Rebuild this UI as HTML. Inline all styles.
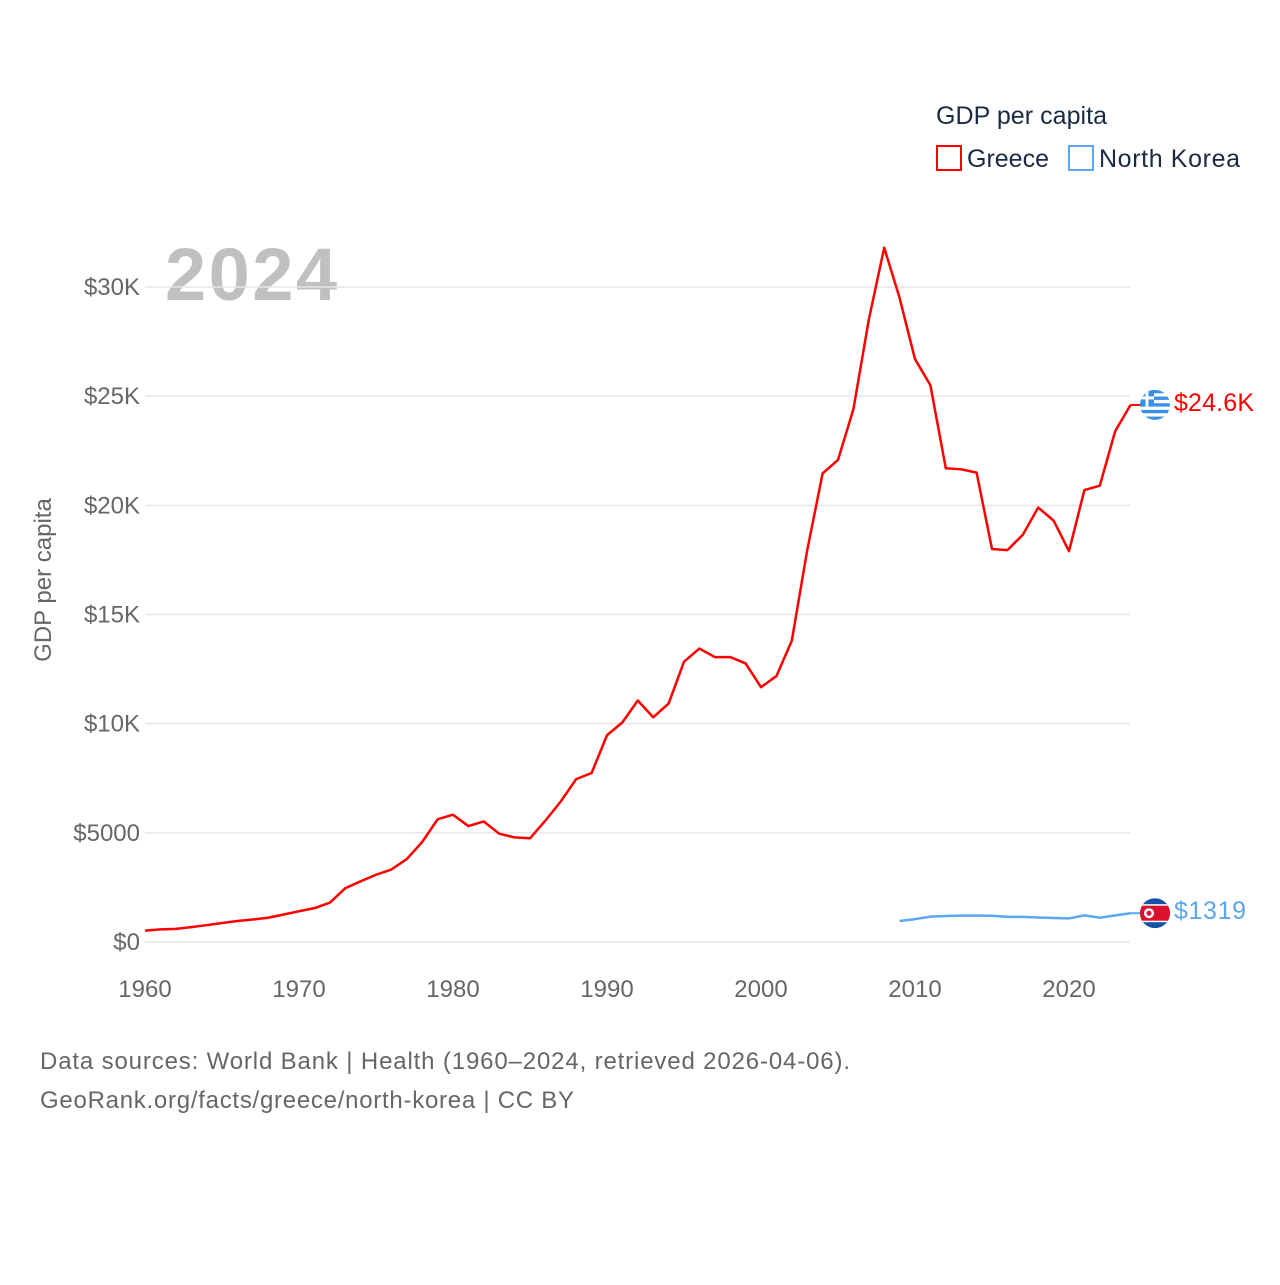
<!DOCTYPE html>
<html><head><meta charset="utf-8"><style>
body{margin:0;background:#fff;}
svg text{font-family:"Liberation Sans",sans-serif;}
</style></head><body>
<svg id="chart" width="1280" height="1280" xmlns="http://www.w3.org/2000/svg">
<text x="936" y="124" font-size="25" fill="#1a2a44" textLength="171">GDP per capita</text>
<g><rect x="937" y="146" width="24" height="24" fill="none" stroke="#f00" stroke-width="2"/><text x="967" y="167" font-size="25" fill="#1a2a44">Greece</text></g>
<g><rect x="1069" y="146" width="24" height="24" fill="none" stroke="#5ba6f0" stroke-width="2"/><text x="1099" y="167" font-size="25" fill="#1a2a44" textLength="141">North Korea</text></g>
<text x="165" y="300" font-size="74" font-weight="bold" fill="#c0c0c0" textLength="172">2024</text>
<text transform="translate(51,580) rotate(-90)" text-anchor="middle" font-size="24" fill="#666">GDP per capita</text>
<g id="grid"></g><g id="lines"></g>
<text x="40" y="1069" font-size="24" fill="#666" textLength="810">Data sources: World Bank | Health (1960–2024, retrieved 2026-04-06).</text>
<text x="40" y="1108" font-size="24" fill="#666" textLength="534">GeoRank.org/facts/greece/north-korea | CC BY</text>
</svg>
<script>
const greeceYears=[1960,1961,1962,1963,1964,1965,1966,1967,1968,1969,1970,1971,1972,1973,1974,1975,1976,1977,1978,1979,1980,1981,1982,1983,1984,1985,1986,1987,1988,1989,1990,1991,1992,1993,1994,1995,1996,1997,1998,1999,2000,2001,2002,2003,2004,2005,2006,2007,2008,2009,2010,2011,2012,2013,2014,2015,2016,2017,2018,2019,2020,2021,2022,2023,2024];
const greeceValues=[520,580,600,680,770,870,960,1030,1110,1260,1410,1550,1800,2460,2780,3080,3320,3800,4580,5620,5830,5310,5520,4960,4790,4750,5560,6440,7460,7740,9470,10060,11060,10290,10920,12840,13440,13050,13050,12760,11670,12180,13800,17940,21460,22080,24400,28500,31800,29500,26700,25500,21700,21650,21500,18000,17950,18650,19900,19300,17900,20700,20900,23400,24600];
const nkYears=[2009,2010,2011,2012,2013,2014,2015,2016,2017,2018,2019,2020,2021,2022,2023,2024];
const nkValues=[960,1050,1160,1190,1210,1210,1200,1150,1150,1120,1100,1080,1220,1110,1220,1319];
const yTicks=[0,5000,10000,15000,20000,25000,30000];
const yTickLabels=["$0","$5000","$10K","$15K","$20K","$25K","$30K"];
const xTicks=[1960,1970,1980,1990,2000,2010,2020];
const NS="http://www.w3.org/2000/svg";
const x=v=>145+(v-1960)*15.4;
const y=v=>942-v*0.021833;
const grid=document.getElementById('grid'),lines=document.getElementById('lines');
function mk(t,a,p){const e=document.createElementNS(NS,t);for(const k in a)e.setAttribute(k,a[k]);p.appendChild(e);return e;}
yTicks.forEach((v,i)=>{
 const l=mk('line',{x1:145,x2:1130,y1:y(v),y2:y(v),stroke:'#e6e6e6','stroke-width':1.5},grid);
 
 
 const t=mk('text',{x:140,y:y(v)+8,'text-anchor':'end','font-size':24,fill:'#666'},grid);
 t.textContent=yTickLabels[i];
 
 
});
xTicks.forEach(v=>{
 const t=mk('text',{x:x(v),y:997,'text-anchor':'middle','font-size':24,fill:'#666'},grid);
 t.textContent=v;
 
 
});
function series(ys,vs,col,name){
 const p=mk('polyline',{points:ys.map((yr,i)=>x(yr)+','+y(vs[i])).join(' '),fill:'none',stroke:col,'stroke-width':2.5,'stroke-linejoin':'round'},lines);
 
 
 const lx=x(ys[ys.length-1]),ly=y(vs[vs.length-1]);
 mk('line',{x1:lx,x2:lx+10,y1:ly,y2:ly,stroke:col,'stroke-width':2},lines);
 return ly;
}
const gy=series(greeceYears,greeceValues,'#f00','greece');
const ny=series(nkYears,nkValues,'#5ba6f0','north-korea');
// Greece flag
const gf=mk('g',{},lines);


const cg=mk('clipPath',{id:'cg'},gf);mk('circle',{cx:1155,cy:gy,r:15},cg);
const gg=mk('g',{'clip-path':'url(#cg)'},gf);
for(let i=0;i<9;i++)mk('rect',{x:1140,y:gy-15+i*30/9,width:30,height:30/9+0.3,fill:i%2?'#fff':'#3a8fe6'},gg);
mk('rect',{x:1140,y:gy-15,width:14,height:16.7,fill:'#3a8fe6'},gg);
mk('rect',{x:1140,y:gy-8.5,width:14,height:3,fill:'#fff'},gg);
mk('rect',{x:1145.5,y:gy-15,width:3,height:16.7,fill:'#fff'},gg);
const gt=mk('text',{x:1174,y:gy+6,'font-size':25,fill:'#f00',textLength:80},lines);gt.textContent='$24.6K';


// NK flag
const nf=mk('g',{},lines);


const cp=mk('clipPath',{id:'cn'},nf);mk('circle',{cx:1155,cy:ny,r:15},cp);
const ng=mk('g',{'clip-path':'url(#cn)'},nf);
mk('rect',{x:1140,y:ny-15,width:30,height:30,fill:'#1452a8'},ng);
mk('rect',{x:1140,y:ny-9,width:30,height:18,fill:'#fff'},ng);
mk('rect',{x:1140,y:ny-7.5,width:30,height:15,fill:'#dc0f2f'},ng);
mk('circle',{cx:1149,cy:ny,r:5,fill:'#fff'},ng);
mk('circle',{cx:1149,cy:ny,r:2.5,fill:'#dc0f2f'},ng);
const nt=mk('text',{x:1174,y:ny+6,'font-size':25,fill:'#5ba6f0',textLength:72},lines);nt.textContent='$1319';


</script>
</body></html>
